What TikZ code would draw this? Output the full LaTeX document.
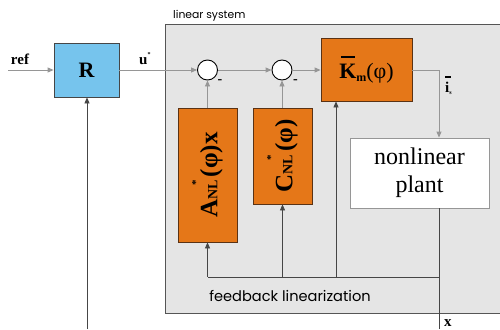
\documentclass[tikz,border=0pt]{standalone}
\usepackage{fontspec}
\setmainfont{Liberation Serif}
\newfontfamily\geofont{Poppins}
\usetikzlibrary{arrows.meta,calc}
\definecolor{rblue}{RGB}{118,196,237}
\definecolor{korange}{RGB}{229,119,24}
\definecolor{kborder}{RGB}{90,50,20}
\definecolor{sysfill}{RGB}{229,229,229}
\definecolor{sysborder}{RGB}{85,85,85}
\definecolor{lgray}{RGB}{150,150,150}
\definecolor{dgray}{RGB}{70,70,70}
\tikzset{
  tip/.style={-{Triangle[length=6pt,width=5pt]}},
  conn/.style={draw=lgray,line width=0.9pt,tip},
  fbconn/.style={draw=dgray,line width=0.8pt},
  ctrlbox/.style={draw=dgray,fill=rblue,line width=0.8pt,inner sep=0pt},
  orbox/.style={draw=kborder,fill=korange,line width=0.8pt,inner sep=0pt},
  sumnode/.style={circle,draw=black,fill=white,line width=0.9pt,minimum size=20pt,inner sep=0pt},
  plantbox/.style={draw=lgray,fill=white,line width=0.9pt,inner sep=0pt,align=center,font=\fontsize{24}{28}\selectfont},
  lbl/.style={inner sep=0pt},
}
\begin{document}
\begin{tikzpicture}[x=1pt,y=-1pt]
\useasboundingbox (0,0) rectangle (500,329);
\begin{scope}
\clip (0,0) rectangle (500,329);
% linear system box
\draw[draw=sysborder,fill=sysfill,line width=1pt] (165,25) rectangle (520,313);
\end{scope}
\node[lbl,anchor=base west] (lsys) at (173,19) {\geofont\fontsize{10.8}{13}\selectfont linear system};
\node[lbl] (fblin) at (290,296) {\geofont\fontsize{14.6}{16}\selectfont feedback linearization};

% blocks
\node[ctrlbox,minimum width=65pt,minimum height=54pt] (R) at (86.5,70) {\fontsize{22}{24}\selectfont\bfseries R};
\node[sumnode] (s1) at (207.5,70) {};
\node[sumnode] (s2) at (282,70) {};
\node[orbox,minimum width=91pt,minimum height=63pt] (K) at (366.5,69.5)
  {\fontsize{22}{24}\selectfont\rlap{\hspace{1.5pt}\rule[21pt]{14pt}{2pt}}\textbf{K}\raisebox{-0.3ex}{\fontsize{12}{12}\selectfont\bfseries m}(φ)};
\node[orbox,minimum width=59pt,minimum height=134pt] (A) at (207.5,175) {};
\node[lbl,rotate=90] (Atext) at (A.center)
  {\fontsize{25}{26}\selectfont\bfseries A\fontsize{14}{14}\selectfont NL\llap{\raisebox{18pt}{\fontsize{11}{11}\selectfont *}}\hspace{3pt}\fontsize{25}{26}\selectfont(φ)x};
\node[orbox,minimum width=59pt,minimum height=96pt] (C) at (282.5,156) {};
\node[lbl,rotate=90] (Ctext) at (C.center)
  {\fontsize{25}{26}\selectfont\bfseries C\fontsize{14}{14}\selectfont NL\llap{\raisebox{18pt}{\fontsize{11}{11}\selectfont *}}\hspace{3pt}\fontsize{25}{26}\selectfont(φ)};
\node[plantbox,minimum width=139pt,minimum height=70pt] (plant) at (419.5,173)
  {nonlinear\\plant};

% coordinates
\coordinate (refin) at (8,70);
\coordinate (rbot) at (87,329);
\coordinate (tap) at (439,277);
\coordinate (kin) at (336,277);
\coordinate (xout) at (439,329);

% connectors
\draw[conn] (refin) -- (R.west);
\draw[conn] (R.east) -- (s1.west);
\draw[conn] (s1.east) -- (s2.west);
\draw[conn] (s2.east) -- (K.west |- s2.east);
\draw[conn] (K.east |- s2.east) -| (tap |- plant.north);
\draw[draw=dgray,line width=0.8pt,tip] (rbot) -- (R.south -| rbot);
\draw[draw=dgray,line width=0.8pt] (plant.south -| tap) -- (xout);
\draw[fbconn] (tap) -- (A.south |- tap);
\draw[fbconn,tip] (A.south |- tap) -- (A.south);
\draw[fbconn,tip] (C.south |- tap) -- (C.south);
\draw[fbconn,tip] (kin) -- (kin |- K.south);
\draw[draw=lgray,line width=0.9pt,tip] (A.north) -- (s1.south);
\draw[draw=lgray,line width=0.9pt,tip] (C.north -| s2) -- (s2.south);

% labels
\node[lbl,anchor=base] (refl) at (20,64) {\fontsize{15}{16}\selectfont\bfseries ref};
\node[lbl,anchor=base west] (ul) at (139,64) {\fontsize{15}{16}\selectfont\bfseries u\raisebox{1.1ex}{\fontsize{6}{6}\selectfont *}};
\node[lbl,anchor=base west] (il) at (445,92) {\fontsize{15}{16}\selectfont\rlap{\rule[14pt]{5.5pt}{1.6pt}}\textbf{i}\raisebox{-0.4ex}{\fontsize{6}{6}\selectfont\bfseries s}};
\node[lbl,anchor=base west] (xl) at (444,326) {\fontsize{15}{16}\selectfont\bfseries x};
\node[lbl] (m1) at (220,82) {\fontsize{14}{14}\selectfont\bfseries -};
\node[lbl] (m2) at (295.5,82) {\fontsize{14}{14}\selectfont\bfseries -};
\end{tikzpicture}
\end{document}
